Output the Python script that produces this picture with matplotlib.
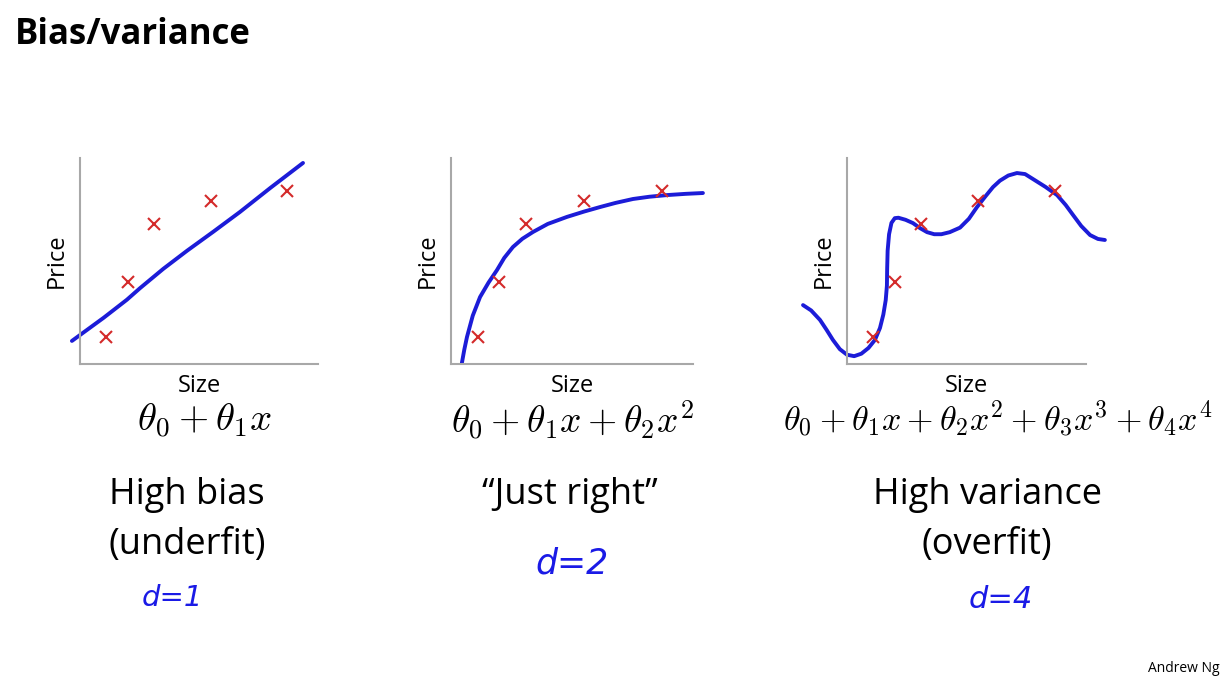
import numpy as np
import matplotlib
matplotlib.use('Agg')
import matplotlib.pyplot as plt

plt.rcParams['font.family'] = ['Open Sans', 'DejaVu Sans']
plt.rcParams['mathtext.fontset'] = 'cm'

# ------------------------------------------------------------------
# Data (arbitrary units 0..10 on both axes)
# ------------------------------------------------------------------
size_pts = [1.1, 2.0, 3.1, 5.5, 8.7]
price_pts = [1.3, 4.0, 6.8, 7.9, 8.4]

# d = 1 : straight line fit
fit1_x = [-0.34, 1.0, 1.97, 2.52, 3.5, 4.5, 5.6, 6.72, 8.0, 9.37]
fit1_y = [1.12, 2.25, 3.12, 3.68, 4.62, 5.5, 6.42, 7.38, 8.55, 9.76]

# d = 2 : quadratic-ish fit
fit2_x = [0.45, 0.55, 0.66, 0.9, 1.2, 1.55, 1.9, 2.2, 2.56, 2.95, 3.39, 4.0,
          4.79, 5.5, 6.16, 6.8, 7.52, 8.2, 8.93, 9.7, 10.41]
fit2_y = [0.05, 0.7, 1.31, 2.35, 3.25, 3.95, 4.56, 5.15, 5.68, 6.08, 6.41,
          6.8, 7.14, 7.4, 7.62, 7.82, 8.01, 8.12, 8.2, 8.26, 8.30]

# d = 4 : wiggly overfit
fit3_x = [-1.84, -1.5, -1.13, -0.85, -0.59, -0.3, 0.0, 0.3, 0.6, 0.9, 1.17,
          1.38, 1.52, 1.62, 1.67, 1.68, 1.7, 1.76, 1.86, 2.0, 2.15, 2.45, 2.76,
          3.05, 3.35, 3.65, 3.95, 4.3, 4.73, 5.1, 5.44, 5.8, 6.11, 6.4, 6.75,
          7.11, 7.45, 7.78, 8.3, 8.79, 9.15, 9.46, 9.8, 10.17, 10.5, 10.79]
fit3_y = [2.86, 2.6, 2.14, 1.65, 1.17, 0.72, 0.45, 0.38, 0.5, 0.78, 1.17,
          1.75, 2.4, 3.1, 3.8, 4.6, 5.5, 6.3, 6.85, 7.08, 7.1, 7.0, 6.84,
          6.6, 6.4, 6.3, 6.3, 6.4, 6.62, 7.05, 7.62, 8.15, 8.59, 8.9, 9.15,
          9.27, 9.22, 8.98, 8.6, 8.2, 7.72, 7.23, 6.7, 6.26, 6.07, 6.02]

fits = [(fit1_x, fit1_y), (fit2_x, fit2_y), (fit3_x, fit3_y)]
formulas = [r'$\theta_0 + \theta_1 x$',
            r'$\theta_0 + \theta_1 x + \theta_2 x^2$',
            r'$\theta_0 + \theta_1 x + \theta_2 x^2 + \theta_3 x^3 + \theta_4 x^4$']
verdicts = [['High bias', '(underfit)'], ['\u201cJust right\u201d'], ['High variance', '(overfit)']]
degrees = ['d=1', 'd=2', 'd=4']

# ------------------------------------------------------------------
# Layout (pixels on a 1230x680 canvas)
# ------------------------------------------------------------------
W, H = 1230, 680
panel_boxes = [(80, 158, 238, 206), (451, 158, 242, 206), (847, 158, 239, 206)]
formula_pos = [(205, 421), (572, 421), (998, 419)]
formula_size = [28, 27, 24.5]
verdict_pos = [[(187, 495), (187, 545)], [(570, 495)], [(987, 495), (987, 545)]]
degree_pos = [(172, 598), (572, 563), (1001, 600)]
degree_size = [21, 25, 22]

fig = plt.figure(figsize=(W / 100, H / 100), dpi=100)


def ftext(x, y, s, **kw):
    fig.text(x / W, 1 - y / H, s, **kw)


ftext(15, 35, 'Bias/variance', fontsize=25, fontweight='bold', va='center', ha='left')

for i, (left, top, w, h) in enumerate(panel_boxes):
    ax = fig.add_axes([left / W, 1 - (top + h) / H, w / W, h / H])
    ax.set_xlim(0, 10)
    ax.set_ylim(0, 10)
    for side in ['top', 'right']:
        ax.spines[side].set_visible(False)
    for side in ['left', 'bottom']:
        ax.spines[side].set_color('#a8a8a8')
        ax.spines[side].set_linewidth(1.5)
    ax.set_xticks([])
    ax.set_yticks([])
    ax.patch.set_alpha(0)

    fx, fy = fits[i]
    ax.plot(fx, fy, color='#1c1cd8', linewidth=2.8, clip_on=False,
            solid_capstyle='round', solid_joinstyle='round', zorder=2)
    ax.plot(size_pts, price_pts, linestyle='none', marker='x', color='#d42a2a',
            markersize=8, markeredgewidth=1.5, clip_on=False, zorder=3)

    ax.set_xlabel('Size', fontsize=17, labelpad=7)
    ax.set_ylabel('Price', fontsize=17, labelpad=8)

    fx0, fy0 = formula_pos[i]
    ftext(fx0, fy0, formulas[i], fontsize=formula_size[i], ha='center', va='center')

    for (vx, vy), s in zip(verdict_pos[i], verdicts[i]):
        ftext(vx, vy, s, fontsize=26, ha='center', va='center')

    dx, dy = degree_pos[i]
    ftext(dx, dy, degrees[i], fontsize=degree_size[i], ha='center', va='center',
          color='#1a1ae6', style='italic', family='DejaVu Sans')

ftext(1220, 669, 'Andrew Ng', fontsize=10, ha='right', va='center')

fig.savefig('out.png', dpi=100)
